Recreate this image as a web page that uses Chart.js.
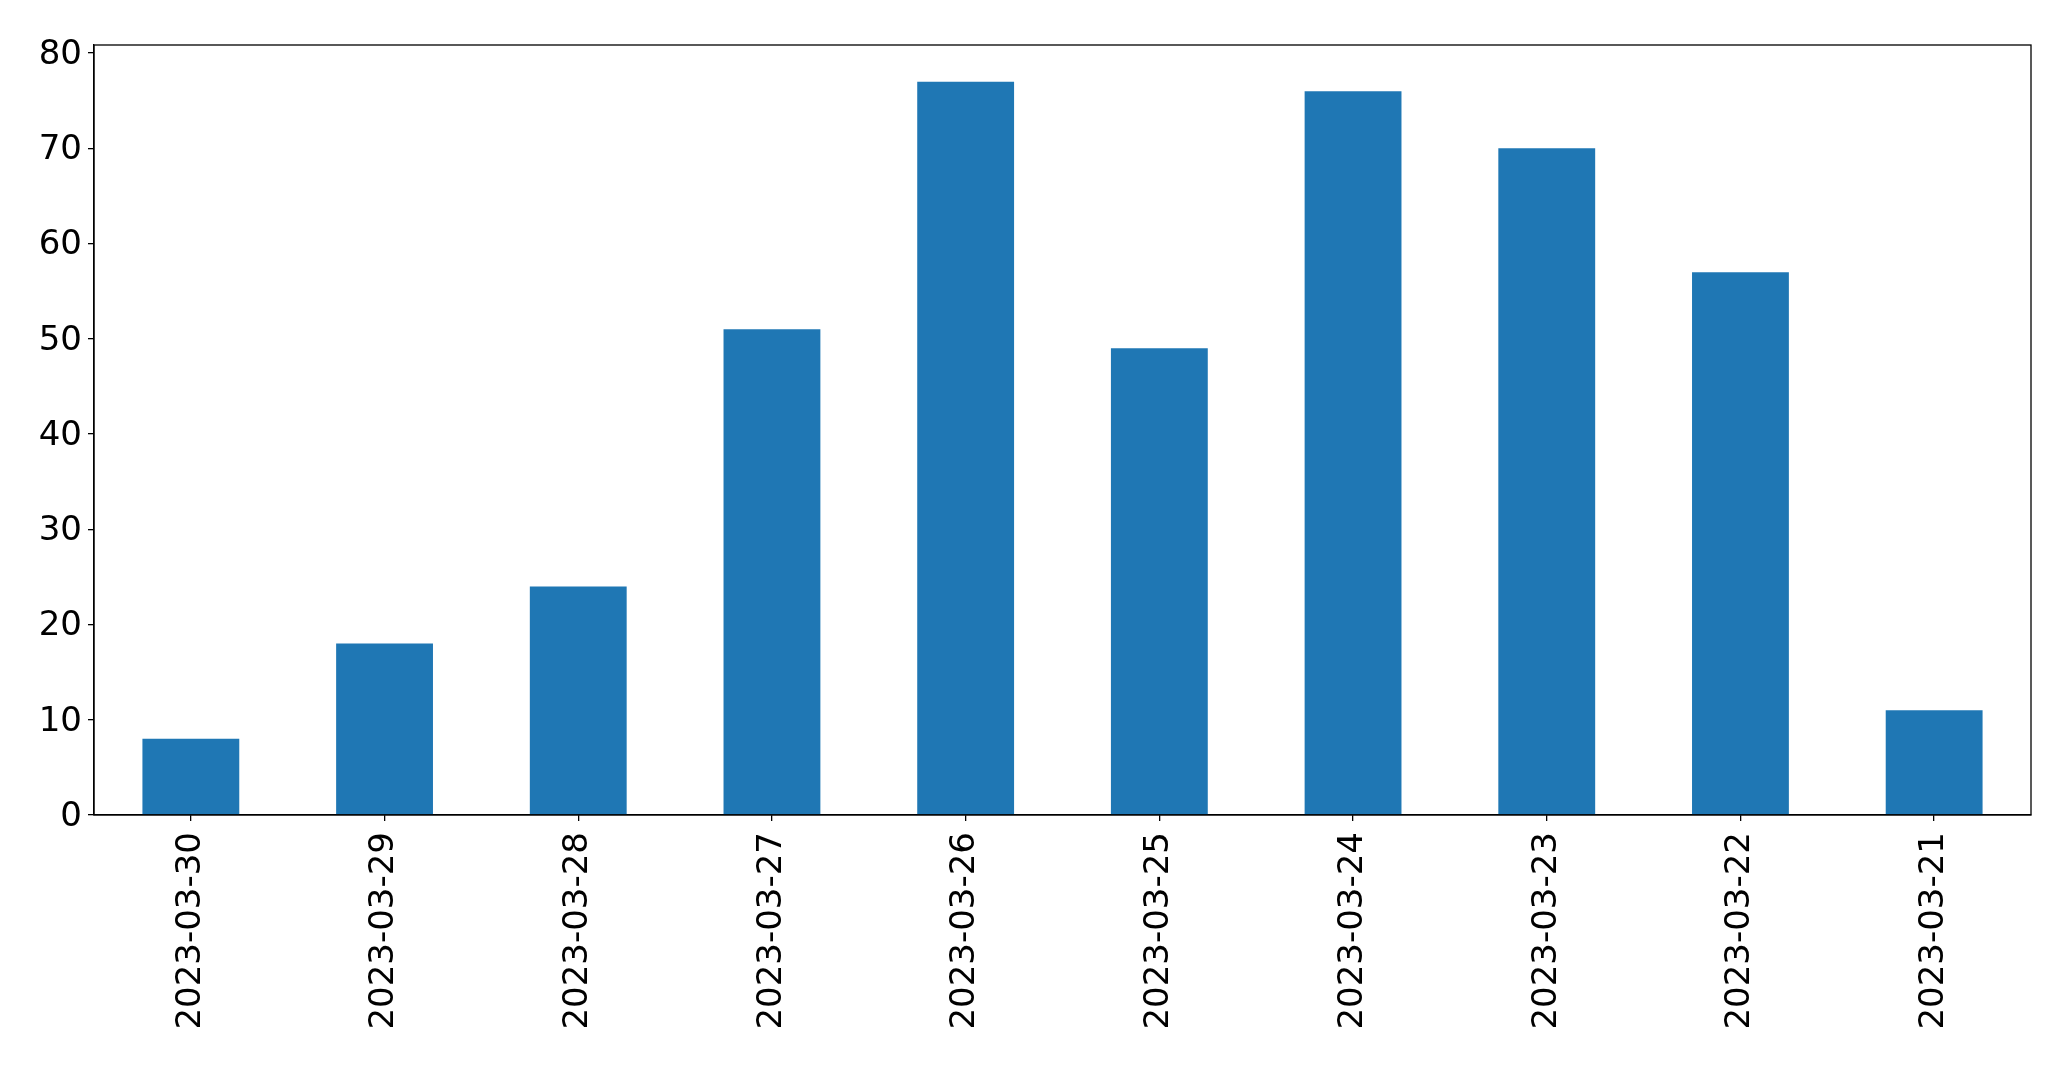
<!DOCTYPE html>
<html>
<head>
<meta charset="utf-8">
<script src="https://cdn.jsdelivr.net/npm/chart.js@4"></script>
<style>
html,body{margin:0;padding:0;background:#fff;}
#wrap{width:2071px;height:1067px;position:relative;}
</style>
</head>
<body>
<div id="wrap"><canvas id="c" width="2071" height="1067"></canvas></div>
<script>
const categories = ["2023-03-30","2023-03-29","2023-03-28","2023-03-27","2023-03-26","2023-03-25","2023-03-24","2023-03-23","2023-03-22","2023-03-21"];
const values = [8, 18, 24, 51, 77, 49, 76, 70, 57, 11];
const yTicks = [0, 10, 20, 30, 40, 50, 60, 70, 80];
const yMax = 80.85;

const frame = {
  id: 'frame',
  afterDatasetsDraw(chart) {
    const a = chart.chartArea, ctx = chart.ctx;
    ctx.save();
    ctx.strokeStyle = '#000';
    ctx.lineWidth = 1.3;
    ctx.strokeRect(a.left, a.top, a.right - a.left, a.bottom - a.top);
    ctx.restore();
  }
};

new Chart(document.getElementById('c'), {
  type: 'bar',
  data: {
    labels: categories,
    datasets: [{ data: values, backgroundColor: '#1f77b4', borderWidth: 0, categoryPercentage: 1.0, barPercentage: 0.5 }]
  },
  options: {
    responsive: false,
    animation: false,
    layout: { padding: { top: 45, right: 40, left: 0, bottom: 0 } },
    plugins: { legend: { display: false }, tooltip: { enabled: false } },
    scales: {
      x: {
        offset: true,
        grid: { display: true, offset: false, drawOnChartArea: false, tickLength: 6, color: '#000', lineWidth: 1.3 },
        border: { display: true, color: '#000', width: 1.3 },
        ticks: { color: '#000', font: { family: 'DejaVu Sans', size: 34 }, maxRotation: 90, minRotation: 90, padding: 11, autoSkip: false },
        afterFit(s) { s.height = 252; }
      },
      y: {
        min: 0, max: yMax,
        grid: { display: true, drawOnChartArea: false, tickLength: 6, color: '#000', lineWidth: 1.3 },
        border: { display: true, color: '#000', width: 1.3 },
        afterBuildTicks(s) { s.ticks = yTicks.map(v => ({ value: v })); },
        ticks: { color: '#000', font: { family: 'DejaVu Sans', size: 34 }, padding: 6, labelOffset: 2 },
        afterFit(s) { s.width = 94; }
      }
    }
  },
  plugins: [frame]
});
</script>
</body>
</html>
